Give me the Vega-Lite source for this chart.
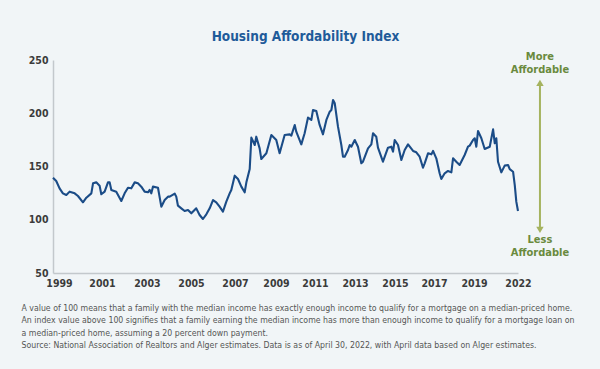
{
  "$schema": "https://vega.github.io/schema/vega-lite/v6.json",
  "width": 465,
  "height": 213,
  "autosize": {"type": "none"},
  "padding": {"left": 53, "top": 60, "right": 82, "bottom": 96},
  "background": "#f1f5f7",
  "config": {
    "view": {"stroke": null},
    "font": "'Liberation Sans Narrow', 'DejaVu Sans Condensed', sans-serif"
  },
  "title": {
    "text": "Housing Affordability Index",
    "anchor": "middle",
    "frame": "group",
    "dx": 20,
    "offset": 7,
    "fontSize": 13.5,
    "fontWeight": "bold",
    "color": "#1f5b9a",
    "font": "'Liberation Sans Narrow', 'DejaVu Sans Condensed', sans-serif"
  },
  "layer": [
    {
      "data": {
        "values": [
          {"date": "1999-01-01", "index": 139.5},
          {"date": "1999-03-01", "index": 136.4},
          {"date": "1999-05-01", "index": 129.5},
          {"date": "1999-07-01", "index": 124.8},
          {"date": "1999-09-01", "index": 123.2},
          {"date": "1999-11-01", "index": 126.4},
          {"date": "2000-02-01", "index": 124.8},
          {"date": "2000-04-01", "index": 122.3},
          {"date": "2000-07-01", "index": 116.4},
          {"date": "2000-09-01", "index": 120.7},
          {"date": "2000-12-01", "index": 124.8},
          {"date": "2001-01-01", "index": 134.2},
          {"date": "2001-03-01", "index": 135.1},
          {"date": "2001-05-01", "index": 132.0},
          {"date": "2001-06-01", "index": 123.9},
          {"date": "2001-08-01", "index": 126.4},
          {"date": "2001-10-01", "index": 135.1},
          {"date": "2001-11-01", "index": 135.1},
          {"date": "2001-12-01", "index": 128.0},
          {"date": "2002-03-01", "index": 126.4},
          {"date": "2002-06-01", "index": 117.6},
          {"date": "2002-08-01", "index": 124.8},
          {"date": "2002-10-01", "index": 130.1},
          {"date": "2002-12-01", "index": 129.5},
          {"date": "2003-02-01", "index": 135.1},
          {"date": "2003-04-01", "index": 134.2},
          {"date": "2003-06-01", "index": 131.1},
          {"date": "2003-08-01", "index": 126.4},
          {"date": "2003-10-01", "index": 125.8},
          {"date": "2003-11-01", "index": 128.0},
          {"date": "2003-12-01", "index": 124.8},
          {"date": "2004-01-01", "index": 131.1},
          {"date": "2004-04-01", "index": 130.1},
          {"date": "2004-06-01", "index": 112.3},
          {"date": "2004-08-01", "index": 118.5},
          {"date": "2004-10-01", "index": 121.7},
          {"date": "2004-11-01", "index": 121.7},
          {"date": "2005-02-01", "index": 124.5},
          {"date": "2005-03-01", "index": 121.7},
          {"date": "2005-04-01", "index": 113.2},
          {"date": "2005-06-01", "index": 110.7},
          {"date": "2005-08-01", "index": 108.2},
          {"date": "2005-10-01", "index": 109.2},
          {"date": "2005-12-01", "index": 106.0},
          {"date": "2006-03-01", "index": 110.7},
          {"date": "2006-05-01", "index": 104.5},
          {"date": "2006-07-01", "index": 100.7},
          {"date": "2006-09-01", "index": 105.1},
          {"date": "2006-11-01", "index": 110.7},
          {"date": "2007-01-01", "index": 118.5},
          {"date": "2007-03-01", "index": 116.4},
          {"date": "2007-05-01", "index": 112.3},
          {"date": "2007-07-01", "index": 107.6},
          {"date": "2007-09-01", "index": 117.0},
          {"date": "2007-11-01", "index": 124.8},
          {"date": "2007-12-01", "index": 128.0},
          {"date": "2008-02-01", "index": 141.4},
          {"date": "2008-04-01", "index": 138.3},
          {"date": "2008-06-01", "index": 131.1},
          {"date": "2008-08-01", "index": 125.8},
          {"date": "2008-09-01", "index": 135.1},
          {"date": "2008-11-01", "index": 147.6},
          {"date": "2008-12-01", "index": 177.1},
          {"date": "2009-02-01", "index": 170.2},
          {"date": "2009-03-01", "index": 178.0},
          {"date": "2009-05-01", "index": 167.0},
          {"date": "2009-06-01", "index": 157.0},
          {"date": "2009-09-01", "index": 162.4},
          {"date": "2009-12-01", "index": 179.6},
          {"date": "2010-03-01", "index": 174.9},
          {"date": "2010-05-01", "index": 162.4},
          {"date": "2010-08-01", "index": 179.6},
          {"date": "2010-11-01", "index": 180.2},
          {"date": "2010-12-01", "index": 179.0},
          {"date": "2011-02-01", "index": 189.0},
          {"date": "2011-03-01", "index": 182.7},
          {"date": "2011-06-01", "index": 170.8},
          {"date": "2011-08-01", "index": 181.2},
          {"date": "2011-10-01", "index": 195.9},
          {"date": "2011-12-01", "index": 193.7},
          {"date": "2012-01-01", "index": 203.1},
          {"date": "2012-03-01", "index": 202.1},
          {"date": "2012-05-01", "index": 189.0},
          {"date": "2012-07-01", "index": 180.2},
          {"date": "2012-09-01", "index": 193.7},
          {"date": "2012-11-01", "index": 201.5},
          {"date": "2012-12-01", "index": 203.1},
          {"date": "2013-01-01", "index": 212.4},
          {"date": "2013-02-01", "index": 209.3},
          {"date": "2013-04-01", "index": 187.4},
          {"date": "2013-06-01", "index": 170.2},
          {"date": "2013-07-01", "index": 159.2},
          {"date": "2013-08-01", "index": 159.2},
          {"date": "2013-10-01", "index": 165.5},
          {"date": "2013-11-01", "index": 170.2},
          {"date": "2013-12-01", "index": 168.6},
          {"date": "2014-02-01", "index": 174.9},
          {"date": "2014-04-01", "index": 168.6},
          {"date": "2014-06-01", "index": 153.0},
          {"date": "2014-07-01", "index": 154.5},
          {"date": "2014-10-01", "index": 167.0},
          {"date": "2014-12-01", "index": 170.8},
          {"date": "2015-01-01", "index": 181.2},
          {"date": "2015-03-01", "index": 178.0},
          {"date": "2015-04-01", "index": 167.7},
          {"date": "2015-07-01", "index": 154.5},
          {"date": "2015-10-01", "index": 167.7},
          {"date": "2015-12-01", "index": 168.6},
          {"date": "2016-01-01", "index": 163.9},
          {"date": "2016-02-01", "index": 174.9},
          {"date": "2016-04-01", "index": 170.2},
          {"date": "2016-06-01", "index": 156.1},
          {"date": "2016-08-01", "index": 165.5},
          {"date": "2016-10-01", "index": 170.8},
          {"date": "2017-01-01", "index": 164.6},
          {"date": "2017-03-01", "index": 163.3},
          {"date": "2017-05-01", "index": 159.2},
          {"date": "2017-07-01", "index": 148.9},
          {"date": "2017-08-01", "index": 153.0},
          {"date": "2017-10-01", "index": 162.4},
          {"date": "2017-12-01", "index": 161.4},
          {"date": "2018-01-01", "index": 164.6},
          {"date": "2018-03-01", "index": 157.7},
          {"date": "2018-05-01", "index": 143.6},
          {"date": "2018-06-01", "index": 138.3},
          {"date": "2018-08-01", "index": 143.6},
          {"date": "2018-10-01", "index": 145.8},
          {"date": "2018-12-01", "index": 144.5},
          {"date": "2019-01-01", "index": 157.7},
          {"date": "2019-03-01", "index": 154.5},
          {"date": "2019-05-01", "index": 151.4},
          {"date": "2019-08-01", "index": 160.8},
          {"date": "2019-10-01", "index": 168.6},
          {"date": "2019-11-01", "index": 169.6},
          {"date": "2020-01-01", "index": 174.9},
          {"date": "2020-02-01", "index": 176.5},
          {"date": "2020-03-01", "index": 168.6},
          {"date": "2020-04-01", "index": 183.3},
          {"date": "2020-06-01", "index": 176.5},
          {"date": "2020-08-01", "index": 166.4},
          {"date": "2020-11-01", "index": 168.6},
          {"date": "2021-01-01", "index": 184.9},
          {"date": "2021-02-01", "index": 171.8},
          {"date": "2021-03-01", "index": 176.5},
          {"date": "2021-04-01", "index": 154.5},
          {"date": "2021-06-01", "index": 144.5},
          {"date": "2021-08-01", "index": 150.8},
          {"date": "2021-10-01", "index": 151.4},
          {"date": "2021-11-01", "index": 147.6},
          {"date": "2022-01-01", "index": 145.1},
          {"date": "2022-02-01", "index": 132.6},
          {"date": "2022-03-01", "index": 117.0},
          {"date": "2022-04-01", "index": 108.2}
        ]
      },
      "mark": {"type": "line", "color": "#1b4c87", "strokeWidth": 2.1, "strokeJoin": "round"},
      "encoding": {
        "x": {
          "field": "date",
          "type": "temporal",
          "scale": {
            "domain": [
              {"year": 1999, "month": 1, "date": 1, "utc": true},
              {"year": 2022, "month": 4, "date": 1, "utc": true}
            ],
            "nice": false,
            "padding": 0
          },
          "axis": {
            "values": [
              {"year": 1999, "month": 4, "date": 20, "utc": true},
              {"year": 2001, "month": 6, "date": 13, "utc": true},
              {"year": 2003, "month": 9, "date": 12, "utc": true},
              {"year": 2005, "month": 11, "date": 24, "utc": true},
              {"year": 2008, "month": 2, "date": 6, "utc": true},
              {"year": 2010, "month": 2, "date": 24, "utc": true},
              {"year": 2012, "month": 2, "date": 6, "utc": true},
              {"year": 2014, "month": 2, "date": 6, "utc": true},
              {"year": 2016, "month": 2, "date": 6, "utc": true},
              {"year": 2018, "month": 1, "date": 19, "utc": true},
              {"year": 2020, "month": 1, "date": 19, "utc": true},
              {"year": 2022, "month": 4, "date": 1, "utc": true}
            ],
            "labelExpr": "['1999','2001','2003','2005','2007','2009','2011','2013','2015','2017','2019','2022'][round(datum.index * 11)]",
            "ticks": false,
            "grid": false,
            "domainColor": "#c3c8cc",
            "domainWidth": 1.5,
            "labelFontSize": 10.5,
            "labelFontWeight": "bold",
            "labelColor": "#3b3b3b",
            "labelPadding": 5,
            "labelFlush": false,
            "labelOverlap": false,
            "title": [
              "A value of 100 means that a family with the median income has exactly enough income to qualify for a mortgage on a median-priced home.",
              "An index value above 100 signifies that a family earning the median income has more than enough income to qualify for a mortgage loan on",
              "a median-priced home, assuming a 20 percent down payment.",
              "Source: National Association of Realtors and Alger estimates. Data is as of April 30, 2022, with April data based on Alger estimates."
            ],
            "titleFontSize": 8.7,
            "titleFontWeight": "normal",
            "titleColor": "#555555",
            "titleAnchor": "start",
            "titleAlign": "left",
            "titleBaseline": "top",
            "titleX": -32,
            "titleY": 30,
            "titleLineHeight": 12.5
          }
        },
        "y": {
          "field": "index",
          "type": "quantitative",
          "scale": {"domain": [50, 250], "nice": false, "zero": false, "padding": 0},
          "axis": {
            "values": [50, 100, 150, 200, 250],
            "ticks": false,
            "grid": false,
            "domainColor": "#c3c8cc",
            "domainWidth": 1.5,
            "labelFontSize": 10.5,
            "labelFontWeight": "bold",
            "labelColor": "#3b3b3b",
            "labelPadding": 5,
            "labelFlush": false,
            "title": null
          }
        }
      }
    },
    {
      "data": {"values": [{}]},
      "mark": {"type": "rule", "color": "#a5b35f", "strokeWidth": 2},
      "encoding": {
        "x": {"datum": {"year": 2023, "month": 5, "date": 7, "utc": true}, "type": "temporal"},
        "y": {"datum": 228, "type": "quantitative"},
        "y2": {"datum": 91}
      }
    },
    {
      "data": {"values": [{}]},
      "mark": {"type": "point", "shape": "triangle-up", "filled": true, "color": "#a5b35f", "size": 55, "opacity": 1},
      "encoding": {
        "x": {"datum": {"year": 2023, "month": 5, "date": 7, "utc": true}, "type": "temporal"},
        "y": {"datum": 228.5, "type": "quantitative"}
      }
    },
    {
      "data": {"values": [{}]},
      "mark": {"type": "point", "shape": "triangle-down", "filled": true, "color": "#a5b35f", "size": 55, "opacity": 1},
      "encoding": {
        "x": {"datum": {"year": 2023, "month": 5, "date": 7, "utc": true}, "type": "temporal"},
        "y": {"datum": 90.5, "type": "quantitative"}
      }
    },
    {
      "data": {"values": [{}]},
      "mark": {"type": "text", "text": ["More", "Affordable"], "color": "#6a8a3d", "fontWeight": "bold", "fontSize": 11, "lineHeight": 13, "align": "center", "baseline": "middle"},
      "encoding": {
        "x": {"datum": {"year": 2023, "month": 5, "date": 7, "utc": true}, "type": "temporal"},
        "y": {"datum": 253, "type": "quantitative"}
      }
    },
    {
      "data": {"values": [{}]},
      "mark": {"type": "text", "text": ["Less", "Affordable"], "color": "#6a8a3d", "fontWeight": "bold", "fontSize": 11, "lineHeight": 13, "align": "center", "baseline": "middle"},
      "encoding": {
        "x": {"datum": {"year": 2023, "month": 5, "date": 7, "utc": true}, "type": "temporal"},
        "y": {"datum": 81, "type": "quantitative"}
      }
    }
  ]
}
